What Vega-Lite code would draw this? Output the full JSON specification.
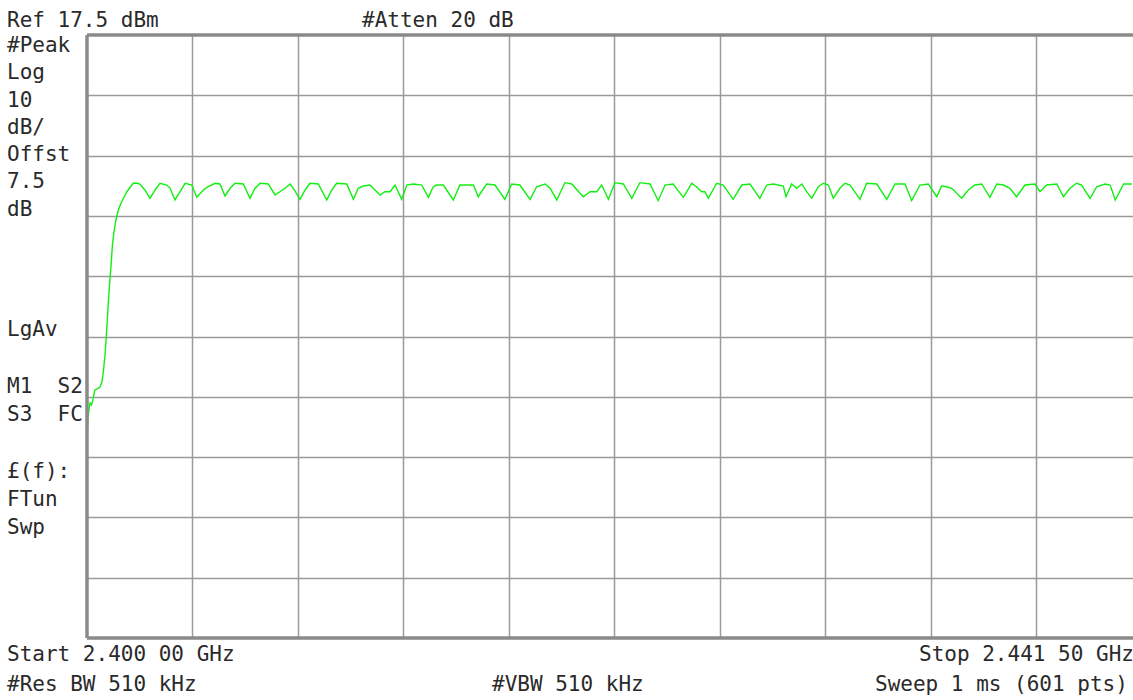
{
  "$schema": "https://vega.github.io/schema/vega-lite/v6.json",
  "width": 1046,
  "height": 603,
  "autosize": {"type": "none"},
  "padding": {"left": 87, "top": 35, "right": 0, "bottom": 62},
  "background": "#ffffff",
  "config": {
    "view": {"stroke": null},
    "axis": {"labels": false, "ticks": false, "domain": false, "title": null, "grid": true, "gridColor": "#9a9a9a", "gridWidth": 1.5, "gridOpacity": 1},
    "text": {"font": "DejaVu Sans Mono", "fontSize": 21, "fill": "#2a2a2a", "align": "left", "baseline": "alphabetic"}
  },
  "datasets": {
    "trace": [
      {"f": 2400.0, "lvl": -49.17}, {"f": 2400.04, "lvl": -45.85}, {"f": 2400.12, "lvl": -43.53}, {"f": 2400.18, "lvl": -43.86},
      {"f": 2400.24, "lvl": -42.86}, {"f": 2400.31, "lvl": -41.37}, {"f": 2400.39, "lvl": -41.21}, {"f": 2400.51, "lvl": -40.87},
      {"f": 2400.59, "lvl": -40.04}, {"f": 2400.65, "lvl": -38.06}, {"f": 2400.71, "lvl": -35.57}, {"f": 2400.75, "lvl": -33.08},
      {"f": 2400.81, "lvl": -28.94}, {"f": 2400.87, "lvl": -24.79}, {"f": 2400.94, "lvl": -21.14}, {"f": 2401.0, "lvl": -17.33},
      {"f": 2401.06, "lvl": -15.17}, {"f": 2401.14, "lvl": -13.18}, {"f": 2401.22, "lvl": -11.69}, {"f": 2401.34, "lvl": -10.36},
      {"f": 2401.46, "lvl": -9.37}, {"f": 2401.57, "lvl": -8.49}, {"f": 2401.69, "lvl": -7.79}, {"f": 2401.82, "lvl": -7.09},
      {"f": 2401.93, "lvl": -7.04}, {"f": 2402.08, "lvl": -7.21}, {"f": 2402.28, "lvl": -8.2}, {"f": 2402.48, "lvl": -9.58},
      {"f": 2402.68, "lvl": -8.2}, {"f": 2402.87, "lvl": -7.09}, {"f": 2403.14, "lvl": -7.38}, {"f": 2403.27, "lvl": -7.92},
      {"f": 2403.46, "lvl": -9.86}, {"f": 2403.66, "lvl": -8.49}, {"f": 2403.86, "lvl": -7.09}, {"f": 2404.12, "lvl": -7.38},
      {"f": 2404.32, "lvl": -9.42}, {"f": 2404.58, "lvl": -8.2}, {"f": 2404.77, "lvl": -7.66}, {"f": 2405.04, "lvl": -7.09},
      {"f": 2405.23, "lvl": -7.21}, {"f": 2405.43, "lvl": -9.2}, {"f": 2405.63, "lvl": -7.92}, {"f": 2405.82, "lvl": -7.09},
      {"f": 2406.15, "lvl": -7.21}, {"f": 2406.41, "lvl": -9.58}, {"f": 2406.61, "lvl": -7.92}, {"f": 2406.81, "lvl": -7.09},
      {"f": 2407.13, "lvl": -7.21}, {"f": 2407.4, "lvl": -9.03}, {"f": 2407.59, "lvl": -8.49}, {"f": 2407.79, "lvl": -7.92},
      {"f": 2407.99, "lvl": -7.21}, {"f": 2408.12, "lvl": -7.92}, {"f": 2408.38, "lvl": -9.75}, {"f": 2408.58, "lvl": -8.2},
      {"f": 2408.77, "lvl": -7.09}, {"f": 2409.1, "lvl": -7.21}, {"f": 2409.43, "lvl": -9.86}, {"f": 2409.63, "lvl": -8.2},
      {"f": 2409.82, "lvl": -7.09}, {"f": 2410.22, "lvl": -7.21}, {"f": 2410.48, "lvl": -9.75}, {"f": 2410.67, "lvl": -7.92},
      {"f": 2410.87, "lvl": -7.54}, {"f": 2411.13, "lvl": -7.38}, {"f": 2411.33, "lvl": -8.2}, {"f": 2411.53, "lvl": -9.03},
      {"f": 2411.72, "lvl": -8.49}, {"f": 2411.92, "lvl": -8.49}, {"f": 2412.12, "lvl": -7.38}, {"f": 2412.38, "lvl": -9.75},
      {"f": 2412.58, "lvl": -7.38}, {"f": 2412.84, "lvl": -7.21}, {"f": 2413.17, "lvl": -7.38}, {"f": 2413.43, "lvl": -9.42},
      {"f": 2413.62, "lvl": -7.66}, {"f": 2413.76, "lvl": -7.38}, {"f": 2414.02, "lvl": -7.38}, {"f": 2414.41, "lvl": -9.86},
      {"f": 2414.67, "lvl": -7.38}, {"f": 2415.2, "lvl": -7.38}, {"f": 2415.39, "lvl": -9.32}, {"f": 2415.72, "lvl": -7.21},
      {"f": 2416.05, "lvl": -7.38}, {"f": 2416.44, "lvl": -9.75}, {"f": 2416.71, "lvl": -7.21}, {"f": 2417.03, "lvl": -7.38},
      {"f": 2417.43, "lvl": -9.75}, {"f": 2417.69, "lvl": -7.66}, {"f": 2418.02, "lvl": -7.21}, {"f": 2418.22, "lvl": -7.92},
      {"f": 2418.48, "lvl": -9.86}, {"f": 2418.8, "lvl": -6.99}, {"f": 2419.07, "lvl": -7.21}, {"f": 2419.52, "lvl": -9.32},
      {"f": 2419.79, "lvl": -8.49}, {"f": 2420.05, "lvl": -8.49}, {"f": 2420.25, "lvl": -7.38}, {"f": 2420.51, "lvl": -9.75},
      {"f": 2420.77, "lvl": -6.99}, {"f": 2421.1, "lvl": -7.21}, {"f": 2421.43, "lvl": -9.58}, {"f": 2421.75, "lvl": -6.99},
      {"f": 2422.15, "lvl": -7.21}, {"f": 2422.47, "lvl": -9.98}, {"f": 2422.74, "lvl": -7.38}, {"f": 2423.06, "lvl": -7.21},
      {"f": 2423.46, "lvl": -9.42}, {"f": 2423.79, "lvl": -7.09}, {"f": 2423.98, "lvl": -7.66}, {"f": 2424.18, "lvl": -8.49},
      {"f": 2424.31, "lvl": -8.49}, {"f": 2424.44, "lvl": -9.58}, {"f": 2424.77, "lvl": -7.09}, {"f": 2425.03, "lvl": -7.38},
      {"f": 2425.42, "lvl": -9.75}, {"f": 2425.76, "lvl": -7.38}, {"f": 2426.08, "lvl": -7.21}, {"f": 2426.47, "lvl": -9.58},
      {"f": 2426.74, "lvl": -7.38}, {"f": 2427.0, "lvl": -7.21}, {"f": 2427.39, "lvl": -7.54}, {"f": 2427.5, "lvl": -9.32},
      {"f": 2427.72, "lvl": -7.21}, {"f": 2427.92, "lvl": -7.92}, {"f": 2428.12, "lvl": -7.21}, {"f": 2428.31, "lvl": -8.49},
      {"f": 2428.51, "lvl": -9.58}, {"f": 2428.77, "lvl": -7.66}, {"f": 2428.97, "lvl": -7.09}, {"f": 2429.16, "lvl": -7.38},
      {"f": 2429.36, "lvl": -9.58}, {"f": 2429.62, "lvl": -7.92}, {"f": 2429.82, "lvl": -7.09}, {"f": 2430.02, "lvl": -7.38},
      {"f": 2430.41, "lvl": -9.75}, {"f": 2430.67, "lvl": -7.09}, {"f": 2431.07, "lvl": -7.21}, {"f": 2431.46, "lvl": -9.75},
      {"f": 2431.79, "lvl": -7.21}, {"f": 2432.18, "lvl": -7.21}, {"f": 2432.44, "lvl": -9.98}, {"f": 2432.77, "lvl": -7.38},
      {"f": 2433.1, "lvl": -7.21}, {"f": 2433.43, "lvl": -9.32}, {"f": 2433.62, "lvl": -7.54}, {"f": 2433.82, "lvl": -7.66},
      {"f": 2434.02, "lvl": -7.92}, {"f": 2434.41, "lvl": -9.58}, {"f": 2434.67, "lvl": -8.2}, {"f": 2434.93, "lvl": -7.38},
      {"f": 2435.2, "lvl": -7.21}, {"f": 2435.52, "lvl": -9.42}, {"f": 2435.79, "lvl": -7.21}, {"f": 2436.05, "lvl": -7.38},
      {"f": 2436.31, "lvl": -7.92}, {"f": 2436.57, "lvl": -9.32}, {"f": 2436.9, "lvl": -7.38}, {"f": 2437.29, "lvl": -7.21},
      {"f": 2437.49, "lvl": -8.49}, {"f": 2437.75, "lvl": -7.38}, {"f": 2438.15, "lvl": -7.21}, {"f": 2438.41, "lvl": -9.32},
      {"f": 2438.67, "lvl": -7.92}, {"f": 2438.93, "lvl": -7.09}, {"f": 2439.13, "lvl": -7.38}, {"f": 2439.46, "lvl": -9.58},
      {"f": 2439.72, "lvl": -7.66}, {"f": 2440.05, "lvl": -7.21}, {"f": 2440.25, "lvl": -7.38}, {"f": 2440.45, "lvl": -9.86},
      {"f": 2440.78, "lvl": -7.21}, {"f": 2441.11, "lvl": -7.21}
    ]
  },
  "layer": [
    {
      "data": {"name": "trace"},
      "mark": {"type": "line", "color": "#10f010", "strokeWidth": 1.4, "clip": true},
      "encoding": {
        "x": {"field": "f", "type": "quantitative", "scale": {"domain": [2400, 2441.149], "nice": false, "zero": false},
              "axis": {"values": [2404.15, 2408.3, 2412.45, 2416.6, 2420.75, 2424.9, 2429.05, 2433.2, 2437.35]}},
        "y": {"field": "lvl", "type": "quantitative", "scale": {"domain": [-82.5, 17.5], "nice": false, "zero": false},
              "axis": {"values": [-72.5, -62.5, -52.5, -42.5, -32.5, -22.5, -12.5, -2.5, 7.5]}}
      }
    },
    {
      "data": {"values": [{"t": "left"}]},
      "mark": {"type": "rule", "color": "#8a8a8a", "strokeWidth": 3.5},
      "encoding": {"x": {"datum": 2400, "type": "quantitative", "scale": {"domain": [2400, 2441.149], "nice": false, "zero": false}}}
    },
    {
      "data": {"values": [{"t": "top"}]},
      "mark": {"type": "rule", "color": "#8a8a8a", "strokeWidth": 3.5},
      "encoding": {"y": {"datum": 17.5, "type": "quantitative", "scale": {"domain": [-82.5, 17.5], "nice": false, "zero": false}}}
    },
    {
      "data": {"values": [{"t": "bottom"}]},
      "mark": {"type": "rule", "color": "#8a8a8a", "strokeWidth": 3.5},
      "encoding": {"y": {"datum": -82.5, "type": "quantitative", "scale": {"domain": [-82.5, 17.5], "nice": false, "zero": false}}}
    },
    {
      "data": {"values": [{"t": "Ref 17.5 dBm"}]},
      "mark": {"type": "text"},
      "encoding": {
        "text": {"field": "t"},
        "x": {"datum": 2396.853, "type": "quantitative", "scale": {"domain": [2400, 2441.149], "nice": false, "zero": false}},
        "y": {"datum": 18.827, "type": "quantitative", "scale": {"domain": [-82.5, 17.5], "nice": false, "zero": false}}
      }
    },
    {
      "data": {"values": [{"t": "#Atten 20 dB"}]},
      "mark": {"type": "text"},
      "encoding": {
        "text": {"field": "t"},
        "x": {"datum": 2410.818, "type": "quantitative", "scale": {"domain": [2400, 2441.149], "nice": false, "zero": false}},
        "y": {"datum": 18.827, "type": "quantitative", "scale": {"domain": [-82.5, 17.5], "nice": false, "zero": false}}
      }
    },
    {
      "data": {"values": [{"t": "#Peak\nLog\n10\ndB/\nOffst\n7.5\ndB"}]},
      "mark": {"type": "text", "lineBreak": "\n", "lineHeight": 27.3},
      "encoding": {
        "text": {"field": "t"},
        "x": {"datum": 2396.853, "type": "quantitative", "scale": {"domain": [2400, 2441.149], "nice": false, "zero": false}},
        "y": {"datum": 14.681, "type": "quantitative", "scale": {"domain": [-82.5, 17.5], "nice": false, "zero": false}}
      }
    },
    {
      "data": {"values": [{"t": "LgAv"}]},
      "mark": {"type": "text"},
      "encoding": {
        "text": {"field": "t"},
        "x": {"datum": 2396.853, "type": "quantitative", "scale": {"domain": [2400, 2441.149], "nice": false, "zero": false}},
        "y": {"datum": -32.417, "type": "quantitative", "scale": {"domain": [-82.5, 17.5], "nice": false, "zero": false}}
      }
    },
    {
      "data": {"values": [{"t": "M1\u00a0\u00a0S2\nS3\u00a0\u00a0FC"}]},
      "mark": {"type": "text", "lineBreak": "\n", "lineHeight": 28.3},
      "encoding": {
        "text": {"field": "t"},
        "x": {"datum": 2396.853, "type": "quantitative", "scale": {"domain": [2400, 2441.149], "nice": false, "zero": false}},
        "y": {"datum": -41.87, "type": "quantitative", "scale": {"domain": [-82.5, 17.5], "nice": false, "zero": false}}
      }
    },
    {
      "data": {"values": [{"t": "£(f):\nFTun\nSwp"}]},
      "mark": {"type": "text", "lineBreak": "\n", "lineHeight": 28},
      "encoding": {
        "text": {"field": "t"},
        "x": {"datum": 2396.853, "type": "quantitative", "scale": {"domain": [2400, 2441.149], "nice": false, "zero": false}},
        "y": {"datum": -55.97, "type": "quantitative", "scale": {"domain": [-82.5, 17.5], "nice": false, "zero": false}}
      }
    },
    {
      "data": {"values": [{"t": "Start 2.400 00 GHz"}]},
      "mark": {"type": "text"},
      "encoding": {
        "text": {"field": "t"},
        "x": {"datum": 2396.853, "type": "quantitative", "scale": {"domain": [2400, 2441.149], "nice": false, "zero": false}},
        "y": {"datum": -86.397, "type": "quantitative", "scale": {"domain": [-82.5, 17.5], "nice": false, "zero": false}}
      }
    },
    {
      "data": {"values": [{"t": "#Res BW 510 kHz"}]},
      "mark": {"type": "text"},
      "encoding": {
        "text": {"field": "t"},
        "x": {"datum": 2396.853, "type": "quantitative", "scale": {"domain": [2400, 2441.149], "nice": false, "zero": false}},
        "y": {"datum": -91.372, "type": "quantitative", "scale": {"domain": [-82.5, 17.5], "nice": false, "zero": false}}
      }
    },
    {
      "data": {"values": [{"t": "#VBW 510 kHz"}]},
      "mark": {"type": "text"},
      "encoding": {
        "text": {"field": "t"},
        "x": {"datum": 2415.932, "type": "quantitative", "scale": {"domain": [2400, 2441.149], "nice": false, "zero": false}},
        "y": {"datum": -91.372, "type": "quantitative", "scale": {"domain": [-82.5, 17.5], "nice": false, "zero": false}}
      }
    },
    {
      "data": {"values": [{"t": "Stop 2.441 50 GHz"}]},
      "mark": {"type": "text"},
      "encoding": {
        "text": {"field": "t"},
        "x": {"datum": 2432.73, "type": "quantitative", "scale": {"domain": [2400, 2441.149], "nice": false, "zero": false}},
        "y": {"datum": -86.397, "type": "quantitative", "scale": {"domain": [-82.5, 17.5], "nice": false, "zero": false}}
      }
    },
    {
      "data": {"values": [{"t": "Sweep 1 ms (601 pts)"}]},
      "mark": {"type": "text"},
      "encoding": {
        "text": {"field": "t"},
        "x": {"datum": 2430.999, "type": "quantitative", "scale": {"domain": [2400, 2441.149], "nice": false, "zero": false}},
        "y": {"datum": -91.372, "type": "quantitative", "scale": {"domain": [-82.5, 17.5], "nice": false, "zero": false}}
      }
    }
  ]
}
